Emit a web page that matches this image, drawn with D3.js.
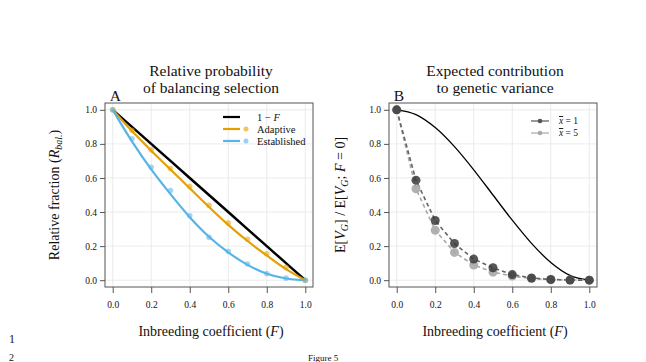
<!DOCTYPE html>
<html>
<head>
<meta charset="utf-8">
<script src="https://cdn.jsdelivr.net/npm/d3@7"></script>
<style>
  body { margin: 0; background: #fff; }
  text { font-family: "Liberation Serif", "DejaVu Serif", serif; fill: #111; }
  .tick-label { font-size: 9.5px; }
  .axis-title { font-size: 14px; }
  .panel-title { font-size: 15.5px; }
</style>
</head>
<body>
<svg id="chart" width="646" height="362"></svg>
<script>
// inbreeding coefficient values
const fValues = [0, 0.1, 0.2, 0.3, 0.4, 0.5, 0.6, 0.7, 0.8, 0.9, 1.0];
const tickValues = [0, 0.2, 0.4, 0.6, 0.8, 1.0];

// panel A
const oneMinusF = [1, 0.9, 0.8, 0.7, 0.6, 0.5, 0.4, 0.3, 0.2, 0.1, 0];
const adaptiveLine = [1, 0.875, 0.76, 0.65, 0.54, 0.43, 0.325, 0.23, 0.145, 0.065, 0];
const adaptivePts = [1, 0.88, 0.765, 0.655, 0.55, 0.44, 0.335, 0.24, 0.155, 0.075, 0];
const establishedLine = [1, 0.815, 0.65, 0.505, 0.37, 0.255, 0.163, 0.09, 0.038, 0.01, 0];
const establishedPts = [1, 0.83, 0.663, 0.526, 0.378, 0.252, 0.168, 0.095, 0.039, 0.012, 0];

// panel B
const varianceLine = [1, 0.972, 0.896, 0.784, 0.648, 0.5, 0.352, 0.216, 0.104, 0.028, 0];
const xbar1Pts = [1, 0.587, 0.35, 0.215, 0.124, 0.073, 0.033, 0.013, 0.004, 0.001, 0];
const xbar5Pts = [1, 0.537, 0.293, 0.163, 0.089, 0.047, 0.024, 0.01, 0.003, 0.001, 0];

const svg = d3.select("#chart");

const drawPanel = (left, opts) => {
    const x = d3.scaleLinear().domain([-0.04, 1.04]).range([left, left + 208]);
    const y = d3.scaleLinear().domain([-0.04, 1.04]).range([287, 103]);
    const g = svg.append("g");

    // grid
    g.selectAll(".vgrid").data(tickValues).join("line")
        .attr("x1", d => x(d)).attr("x2", d => x(d))
        .attr("y1", y(-0.04)).attr("y2", y(1.04))
        .attr("stroke", "#e6e6e6").attr("stroke-width", 0.8);
    g.selectAll(".hgrid").data(tickValues).join("line")
        .attr("y1", d => y(d)).attr("y2", d => y(d))
        .attr("x1", x(-0.04)).attr("x2", x(1.04))
        .attr("stroke", "#e6e6e6").attr("stroke-width", 0.8);

    // axes
    const fmt = d3.format(".1f");
    const bottom = g.append("g")
        .attr("transform", "translate(0,287)")
        .call(d3.axisBottom(x).tickValues(tickValues).tickFormat(fmt).tickSize(6).tickPadding(8));
    const leftAx = g.append("g")
        .attr("transform", `translate(${left},0)`)
        .call(d3.axisLeft(y).tickValues(tickValues).tickFormat(fmt).tickSize(5).tickPadding(3));
    [bottom, leftAx].forEach(a => {
        a.attr("font-family", null).attr("font-size", null);
        a.select(".domain").remove();
        a.selectAll("line").attr("stroke", "#555");
        a.selectAll("text").attr("class", "tick-label").attr("fill", "#222");
    });

    opts.draw(g, x, y);

    // box
    g.append("rect")
        .attr("x", x(-0.04)).attr("y", y(1.04))
        .attr("width", x(1.04) - x(-0.04)).attr("height", y(-0.04) - y(1.04))
        .attr("fill", "none").attr("stroke", "#555").attr("stroke-width", 1);

    // titles
    opts.title.forEach((t, i) => {
        svg.append("text").attr("class", "panel-title")
            .attr("x", left + 106).attr("y", 76 + i * 16.5)
            .attr("text-anchor", "middle").text(t);
    });
    svg.append("text").attr("class", "panel-title")
        .attr("x", x(0) - 3).attr("y", 101).text(opts.label);

    const xt = svg.append("text").attr("class", "axis-title")
        .attr("x", left + 106).attr("y", 336).attr("text-anchor", "middle");
    xt.append("tspan").text("Inbreeding coefficient (");
    xt.append("tspan").attr("font-style", "italic").text("F");
    xt.append("tspan").text(")");

    const yt = svg.append("text").attr("class", "axis-title")
        .attr("transform", `translate(${left + opts.yTitleDx},195) rotate(-90)`)
        .attr("text-anchor", "middle");
    opts.yTitle(yt);
};

const lineGen = (x, y, vals) => d3.line()
    .x((d, i) => x(fValues[i]))
    .y(d => y(d))
    .curve(d3.curveMonotoneX)(vals);

drawPanel(105, {
    label: "A",
    yTitleDx: -46,
    title: ["Relative probability", "of balancing selection"],
    yTitle: t => {
        t.append("tspan").text("Relative fraction (");
        t.append("tspan").attr("font-style", "italic").text("R");
        t.append("tspan").attr("font-size", "10px").attr("dy", 3).attr("font-style", "italic").text("bal.");
        t.append("tspan").attr("dy", -3).text(")");
    },
    draw: (g, x, y) => {
        const orange = "#E69F00", blue = "#56B4E9";
        g.append("path").attr("d", lineGen(x, y, oneMinusF))
            .attr("fill", "none").attr("stroke", "#000").attr("stroke-width", 2.5);
        g.append("path").attr("d", lineGen(x, y, adaptiveLine))
            .attr("fill", "none").attr("stroke", orange).attr("stroke-width", 2.2);
        g.append("path").attr("d", lineGen(x, y, establishedLine))
            .attr("fill", "none").attr("stroke", blue).attr("stroke-width", 2.2);
        g.selectAll(".ad").data(adaptivePts).join("circle")
            .attr("cx", (d, i) => x(fValues[i])).attr("cy", d => y(d))
            .attr("r", 2.8).attr("fill", orange).attr("opacity", 0.55);
        g.selectAll(".es").data(establishedPts).join("circle")
            .attr("cx", (d, i) => x(fValues[i])).attr("cy", d => y(d))
            .attr("r", 2.8).attr("fill", blue).attr("opacity", 0.55);

        // legend
        const items = [
            { name: "1 \u2212 ", italic: "F", color: "#000", pt: false },
            { name: "Adaptive", color: orange, pt: true },
            { name: "Established", color: blue, pt: true }
        ];
        items.forEach((it, i) => {
            const ly = 117 + i * 12;
            g.append("line").attr("x1", 223).attr("x2", 240).attr("y1", ly).attr("y2", ly)
                .attr("stroke", it.color).attr("stroke-width", 2.2);
            if (it.pt) {
                g.append("circle").attr("cx", 246).attr("cy", ly).attr("r", 2.5)
                    .attr("fill", it.color).attr("opacity", 0.6);
            }
            const tx = g.append("text").attr("x", 257).attr("y", ly + 3.5).attr("font-size", "10.5px").text(it.name);
            if (it.italic) tx.append("tspan").attr("font-style", "italic").text(it.italic);
        });
    }
});

drawPanel(389, {
    label: "B",
    yTitleDx: -44,
    title: ["Expected contribution", "to genetic variance"],
    yTitle: t => {
        t.append("tspan").text("E[");
        t.append("tspan").attr("font-style", "italic").text("V");
        t.append("tspan").attr("font-size", "10px").attr("dy", 3).attr("font-style", "italic").text("G");
        t.append("tspan").attr("dy", -3).text("] / E[");
        t.append("tspan").attr("font-style", "italic").text("V");
        t.append("tspan").attr("font-size", "10px").attr("dy", 3).attr("font-style", "italic").text("G");
        t.append("tspan").attr("dy", -3).text("; ");
        t.append("tspan").attr("font-style", "italic").text("F");
        t.append("tspan").text(" = 0]");
    },
    draw: (g, x, y) => {
        const dark = "#3a3a3a", light = "#a8a8a8";
        g.append("path").attr("d", lineGen(x, y, varianceLine))
            .attr("fill", "none").attr("stroke", "#000").attr("stroke-width", 1.3);
        g.append("path").attr("d", d3.line().x((d, i) => x(fValues[i])).y(d => y(d))(xbar5Pts))
            .attr("fill", "none").attr("stroke", light).attr("stroke-width", 1.6)
            .attr("stroke-dasharray", "4,3");
        g.append("path").attr("d", d3.line().x((d, i) => x(fValues[i])).y(d => y(d))(xbar1Pts))
            .attr("fill", "none").attr("stroke", "#666").attr("stroke-width", 1.6)
            .attr("stroke-dasharray", "4,3");
        g.selectAll(".x5").data(xbar5Pts).join("circle")
            .attr("cx", (d, i) => x(fValues[i])).attr("cy", d => y(d))
            .attr("r", 4.5).attr("fill", light).attr("opacity", 0.9);
        g.selectAll(".x1").data(xbar1Pts).join("circle")
            .attr("cx", (d, i) => x(fValues[i])).attr("cy", d => y(d))
            .attr("r", 4.5).attr("fill", dark).attr("opacity", 0.85);

        const items = [
            { val: "1", color: "#555" },
            { val: "5", color: light }
        ];
        items.forEach((it, i) => {
            const ly = 121 + i * 12;
            g.append("line").attr("x1", 531).attr("x2", 549).attr("y1", ly).attr("y2", ly)
                .attr("stroke", it.color).attr("stroke-width", 1.2);
            g.append("circle").attr("cx", 540).attr("cy", ly).attr("r", 2.3).attr("fill", it.color);
            const tx = g.append("text").attr("x", 559).attr("y", ly + 3).attr("font-size", "9.5px");
            tx.append("tspan").attr("font-style", "italic").attr("text-decoration", "overline").text("x");
            tx.append("tspan").text(" = " + it.val);
        });
    }
});

// page line numbers and caption from the source document
svg.append("text").attr("x", 9).attr("y", 343).attr("font-size", "12px").text("1");
svg.append("text").attr("x", 9).attr("y", 361).attr("font-size", "10px").text("2");
svg.append("text").attr("x", 308).attr("y", 361).attr("font-size", "9px").text("Figure 5");
</script>
</body>
</html>
